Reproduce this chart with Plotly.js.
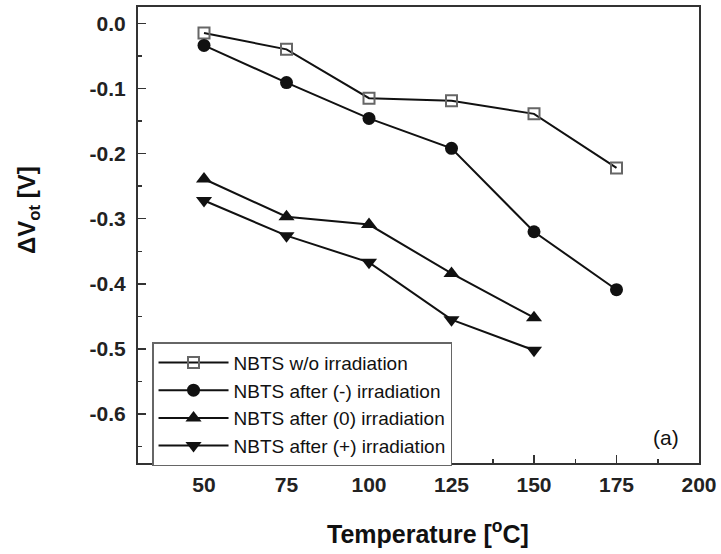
<!DOCTYPE html>
<html>
<head>
<meta charset="utf-8">
<script src="https://cdn.plot.ly/plotly-3.0.1.min.js"></script>
<style>html,body{margin:0;padding:0;background:#fff;}#chart{width:721px;height:554px;}</style>
</head>
<body>
<div id="chart"></div>
<script>
// ---- data ----
const temperature = [50, 75, 100, 125, 150, 175];
const temperatureShort = [50, 75, 100, 125, 150];
const woIrradiation = [-0.015, -0.040, -0.115, -0.119, -0.139, -0.222];
const afterNegIrr = [-0.034, -0.091, -0.146, -0.192, -0.320, -0.409];
const afterZeroIrr = [-0.239, -0.297, -0.309, -0.384, -0.452];
const afterPosIrr = [-0.272, -0.326, -0.367, -0.455, -0.502];

const seriesNames = [
  'NBTS w/o irradiation',
  'NBTS after (-) irradiation',
  'NBTS after (0) irradiation',
  'NBTS after (+) irradiation'
];

const xTickVals = [50, 75, 100, 125, 150, 175, 200];
const xTickText = ['50', '75', '100', '125', '150', '175', '200'];
const xMinorVals = [37.5, 62.5, 87.5, 112.5, 137.5, 162.5, 187.5];
const yTickVals = [0, -0.1, -0.2, -0.3, -0.4, -0.5, -0.6];
const yTickText = ['0.0', '-0.1', '-0.2', '-0.3', '-0.4', '-0.5', '-0.6'];
const yMinorVals = [-0.05, -0.15, -0.25, -0.35, -0.45, -0.55, -0.65];

const lineStyle = {color: '#111', width: 2};
const font = 'Liberation Sans, Arial, sans-serif';

const traces = [
  {x: temperature, y: woIrradiation, name: seriesNames[0], mode: 'lines+markers',
   line: lineStyle, marker: {symbol: 'square-open', size: 11, color: '#666', line: {width: 2, color: '#666'}}},
  {x: temperature, y: afterNegIrr, name: seriesNames[1], mode: 'lines+markers',
   line: lineStyle, marker: {symbol: 'circle', size: 13, color: '#111'}},
  {x: temperatureShort, y: afterZeroIrr, name: seriesNames[2], mode: 'lines+markers',
   line: lineStyle, marker: {symbol: 'triangle-up', size: 14, color: '#111'}},
  {x: temperatureShort, y: afterPosIrr, name: seriesNames[3], mode: 'lines+markers',
   line: lineStyle, marker: {symbol: 'triangle-down', size: 14, color: '#111'}}
];

const axisCommon = {
  showline: true, mirror: true, linecolor: '#333', linewidth: 2,
  ticks: 'inside', ticklen: 8, tickwidth: 1.5, tickcolor: '#333',
  showgrid: false, zeroline: false, tickmode: 'array',
  tickfont: {family: font, size: 21, color: '#222', weight: 'bold'}
};

const layout = {
  width: 721, height: 554,
  margin: {l: 138, r: 22, t: 7, b: 91},
  paper_bgcolor: '#fff', plot_bgcolor: '#fff',
  showlegend: true,
  xaxis: Object.assign({}, axisCommon, {
    range: [30, 200], tickvals: xTickVals, ticktext: xTickText, ticklabelstandoff: 2,
    minor: {tickmode: 'array', tickvals: xMinorVals, ticks: 'inside', ticklen: 4, tickwidth: 1.5, tickcolor: '#333'}
  }),
  yaxis: Object.assign({}, axisCommon, {
    range: [-0.675, 0.025], tickvals: yTickVals, ticktext: yTickText, ticklabelstandoff: 6,
    minor: {tickmode: 'array', tickvals: yMinorVals, ticks: 'inside', ticklen: 4, tickwidth: 1.5, tickcolor: '#333'}
  }),
  legend: {
    x: 0.025, y: 0.265, xanchor: 'left', yanchor: 'top',
    bgcolor: '#fff', bordercolor: '#666', borderwidth: 1.5,
    font: {family: font, size: 19, color: '#111'},
    itemwidth: 70,
    tracegroupgap: 0
  },
  annotations: [
    {text: 'ΔV<sub>ot</sub> [V]', xref: 'paper', yref: 'paper', x: -0.194, y: 0.555,
     textangle: -90, showarrow: false, xanchor: 'center', yanchor: 'middle',
     font: {family: font, size: 24, color: '#111', weight: 'bold'}},
    {text: 'Temperature [<sup>o</sup>C]', xref: 'paper', yref: 'paper', x: 0.517, y: -0.152,
     showarrow: false, xanchor: 'center', yanchor: 'middle',
     font: {family: font, size: 25, color: '#111', weight: 'bold'}},
    {text: '(a)', xref: 'paper', yref: 'paper', x: 0.941, y: 0.057,
     showarrow: false, xanchor: 'center', yanchor: 'middle',
     font: {family: font, size: 21, color: '#111'}}
  ]
};

Plotly.newPlot('chart', traces, layout, {staticPlot: true, displayModeBar: false});
</script>
</body>
</html>
